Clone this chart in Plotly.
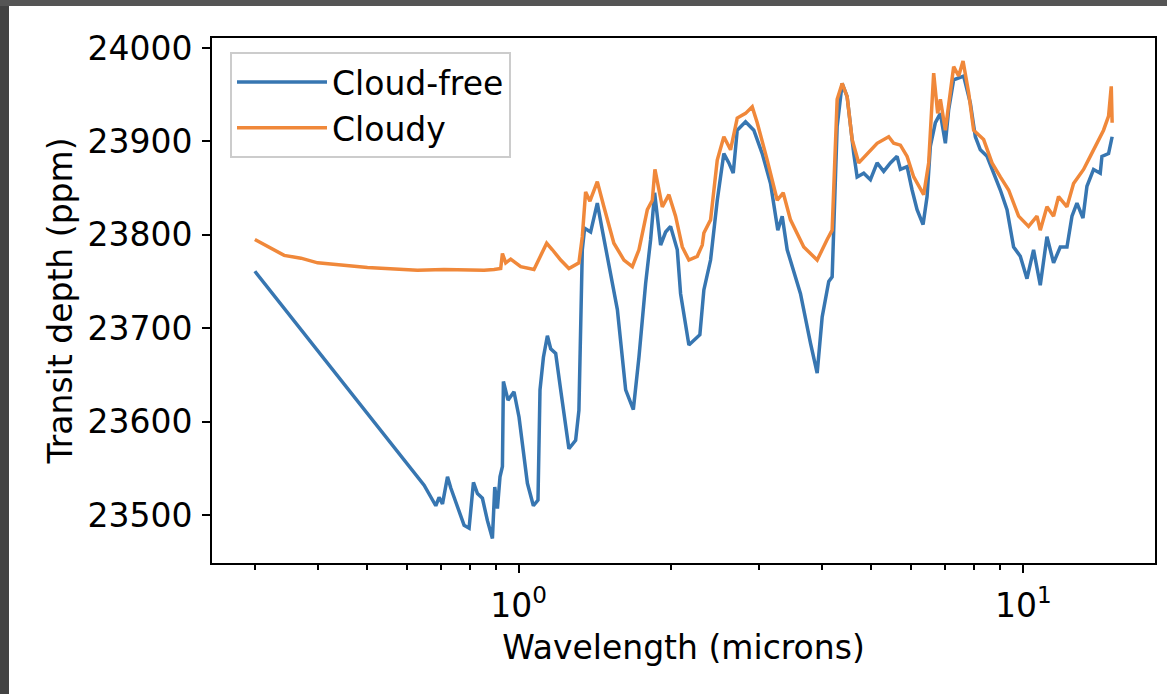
import math
import plotly.graph_objects as go

# ---- data ----
wavelength_cloudfree = [
    0.30, 0.5884, 0.6494, 0.6850, 0.6954, 0.7063, 0.7226, 0.7336, 0.7505, 0.7795,
    0.7974, 0.8134, 0.8284, 0.8474, 0.8670, 0.8870, 0.8965, 0.9074, 0.9182, 0.9284,
    0.9326, 0.9524, 0.9788, 1.0014, 1.0405, 1.0693, 1.0920, 1.1021, 1.1194, 1.1399,
    1.1572, 1.1839, 1.2112, 1.2575, 1.2966, 1.3162, 1.3368, 1.3509, 1.3884, 1.4315,
    1.4645, 1.4983, 1.5687, 1.6292, 1.6873, 1.7310, 1.7847, 1.8259, 1.8595, 1.9110,
    1.9551, 2.000, 2.0620, 2.0933, 2.1741, 2.2859, 2.3280, 2.4002, 2.4747, 2.5502,
    2.6090, 2.6619, 2.7108, 2.8154, 2.9240, 3.0381, 3.1555, 3.2623, 3.3284, 3.4051,
    3.6179, 3.7866, 3.9041, 3.9941, 4.1160, 4.1803, 4.2767, 4.3752, 4.4761, 4.6129,
    4.6850, 4.8282, 4.9778, 5.1322, 5.2890, 5.4532, 5.6222, 5.7076, 5.8849, 6.0205,
    6.1592, 6.3300, 6.4465, 6.5443, 6.6953, 6.8497, 7.0077, 7.1141, 7.2782, 7.6176,
    7.8538, 8.0348, 8.2201, 8.4751, 8.7343, 9.0054, 9.2849, 9.5676, 9.8642, 10.170,
    10.481, 10.806, 11.141, 11.482, 11.838, 12.206, 12.488, 12.775, 13.130, 13.371,
    13.780, 14.207, 14.318, 14.757, 15.0,
]
depth_cloudfree = [
    23761, 23562, 23532, 23510, 23519, 23512, 23541, 23529, 23514, 23489,
    23486, 23535, 23523, 23518, 23494, 23475, 23530, 23507, 23541, 23552,
    23643, 23623, 23632, 23605, 23534, 23510, 23516, 23634, 23669, 23692,
    23678, 23673, 23634, 23571, 23580, 23612, 23784, 23807, 23803, 23834,
    23805, 23778, 23720, 23634, 23613, 23669, 23748, 23795, 23845, 23789,
    23803, 23809, 23784, 23737, 23682, 23693, 23741, 23773, 23837, 23887,
    23877, 23866, 23912, 23921, 23912, 23887, 23855, 23805, 23820, 23784,
    23737, 23684, 23652, 23712, 23750, 23755, 23916, 23962, 23948, 23887,
    23862, 23866, 23859, 23877, 23868, 23877, 23884, 23870, 23873, 23848,
    23827, 23811, 23841, 23895, 23920, 23930, 23898, 23934, 23966, 23970,
    23941, 23905, 23891, 23884, 23866, 23848, 23827, 23787, 23777, 23753,
    23784, 23746, 23798, 23770, 23787, 23787, 23820, 23834, 23818, 23852,
    23870, 23866, 23884, 23887, 23905,
]

wavelength_cloudy = [
    0.30, 0.3429, 0.3702, 0.3995, 0.5015, 0.6300, 0.7112, 0.8538, 0.8934, 0.9212,
    0.9284, 0.9425, 0.9642, 1.0092, 1.0722, 1.1055, 1.1362, 1.1662, 1.2112, 1.2575,
    1.3162, 1.3368, 1.3571, 1.3840, 1.4315, 1.4752, 1.5439, 1.6166, 1.6796, 1.7310,
    1.7986, 1.8401, 1.8620, 1.9258, 1.9847, 2.0460, 2.1096, 2.1741, 2.2589, 2.3110,
    2.3280, 2.4002, 2.4747, 2.5502, 2.6293, 2.7108, 2.8154, 2.9027, 2.9696, 3.1084,
    3.2534, 3.3436, 3.4566, 3.6727, 3.9041, 4.0861, 4.1803, 4.2767, 4.3752, 4.4761,
    4.5795, 4.7193, 4.9034, 5.1322, 5.4111, 5.5358, 5.7076, 5.8849, 6.0646, 6.3472,
    6.4938, 6.6436, 6.7659, 6.8497, 7.0077, 7.1141, 7.2782, 7.4461, 7.5967, 7.7932,
    7.9727, 8.3450, 8.6701, 9.0054, 9.3530, 9.7879, 10.245, 10.645, 10.806, 11.141,
    11.482, 11.747, 12.206, 12.579, 13.166, 13.574, 13.995, 14.423, 14.757, 14.940,
    15.0,
]
depth_cloudy = [
    23795, 23778, 23775, 23770, 23765, 23762, 23763, 23762, 23763, 23764,
    23780, 23770, 23774, 23766, 23763, 23777, 23791, 23784, 23773, 23764,
    23770, 23798, 23846, 23836, 23857, 23830, 23791, 23773, 23766, 23784,
    23827, 23837, 23870, 23830, 23843, 23820, 23787, 23773, 23777, 23789,
    23802, 23816, 23880, 23905, 23891, 23925, 23930, 23937, 23920, 23880,
    23837, 23845, 23816, 23787, 23773, 23795, 23805, 23945, 23962, 23948,
    23902, 23877, 23887, 23898, 23905, 23898, 23896, 23884, 23862, 23843,
    23877, 23973, 23930, 23945, 23912, 23937, 23980, 23970, 23986, 23952,
    23912, 23902, 23877, 23862, 23848, 23820, 23809, 23820, 23805, 23830,
    23820, 23841, 23830, 23855, 23870, 23884, 23898, 23912, 23927, 23959,
    23920,
]

series_names = ["Cloud-free", "Cloudy"]
y_tick_values = [23500, 23600, 23700, 23800, 23900, 24000]
y_tick_labels = ["23500", "23600", "23700", "23800", "23900", "24000"]
x_major_ticks = [1, 10]
x_major_labels = ["10<sup>0</sup>", "10<sup>1</sup>"]
x_minor_ticks = [0.3, 0.4, 0.5, 0.6, 0.7, 0.8, 0.9, 2, 3, 4, 5, 6, 7, 8, 9]

# ---- styling ----
BLUE = "#3776b1"
ORANGE = "#f0883a"
FONT = "DejaVu Sans"
FS = 33

W, H = 1167, 694
L, R, T, B = 212, 12, 38, 131

fig = go.Figure()
fig.add_trace(go.Scatter(x=wavelength_cloudfree, y=depth_cloudfree, mode="lines",
                         name=series_names[0], line=dict(color=BLUE, width=3.5)))
fig.add_trace(go.Scatter(x=wavelength_cloudy, y=depth_cloudy, mode="lines",
                         name=series_names[1], line=dict(color=ORANGE, width=3.5)))

lo = math.log10(min(wavelength_cloudfree + wavelength_cloudy))
hi = math.log10(max(wavelength_cloudfree + wavelength_cloudy))
pad = 0.05 * (hi - lo)

fig.update_xaxes(
    type="log", range=[lo - pad, hi + pad],
    tickmode="array", tickvals=x_major_ticks, ticktext=x_major_labels,
    ticks="outside", ticklen=8, tickwidth=2, tickcolor="black",
    showline=True, linewidth=2, linecolor="black", mirror=True,
    showgrid=False, zeroline=False, automargin=False,
    tickfont=dict(family=FONT, size=FS, color="black"),
    ticklabelstandoff=4,
    minor=dict(tickmode="array", tickvals=x_minor_ticks, ticks="outside",
               ticklen=5, tickwidth=1.5, tickcolor="black", showgrid=False),
    title=dict(text="Wavelength (microns)", font=dict(family=FONT, size=FS, color="black"),
               standoff=12),
)
fig.update_yaxes(
    range=[23448.7, 24010.7],
    tickmode="array", tickvals=y_tick_values, ticktext=y_tick_labels,
    ticks="outside", ticklen=8, tickwidth=2, tickcolor="black",
    showline=True, linewidth=2, linecolor="black", mirror=True,
    showgrid=False, zeroline=False, automargin=False,
    tickfont=dict(family=FONT, size=FS, color="black"),
    ticklabelstandoff=3,
    title=dict(text="Transit depth (ppm)", font=dict(family=FONT, size=FS, color="black"),
               standoff=5),
)

# dark screenshot frame (left and top strips)
def px_x(p):
    return (p - L) / (W - L - R)

def px_y(p):
    return (H - B - p) / (H - T - B)

fig.add_shape(type="rect", xref="paper", yref="paper", layer="above",
              x0=px_x(0), x1=px_x(9), y0=px_y(H), y1=px_y(0),
              line=dict(width=0), fillcolor="#424242")
fig.add_shape(type="rect", xref="paper", yref="paper", layer="above",
              x0=px_x(0), x1=px_x(W), y0=px_y(6), y1=px_y(0),
              line=dict(width=0), fillcolor="#555555")

fig.update_layout(
    width=W, height=H,
    margin=dict(l=L, r=R, t=T, b=B, pad=0),
    paper_bgcolor="white", plot_bgcolor="white",
    font=dict(family=FONT, size=FS, color="black"),
    showlegend=True,
    legend=dict(x=px_x(230), y=px_y(52), xanchor="left", yanchor="top",
                bgcolor="rgba(255,255,255,0.8)", bordercolor="#cccccc", borderwidth=2,
                font=dict(family=FONT, size=FS, color="black"),
                itemwidth=90, tracegroupgap=0),
)

fig.write_html("out.html")
